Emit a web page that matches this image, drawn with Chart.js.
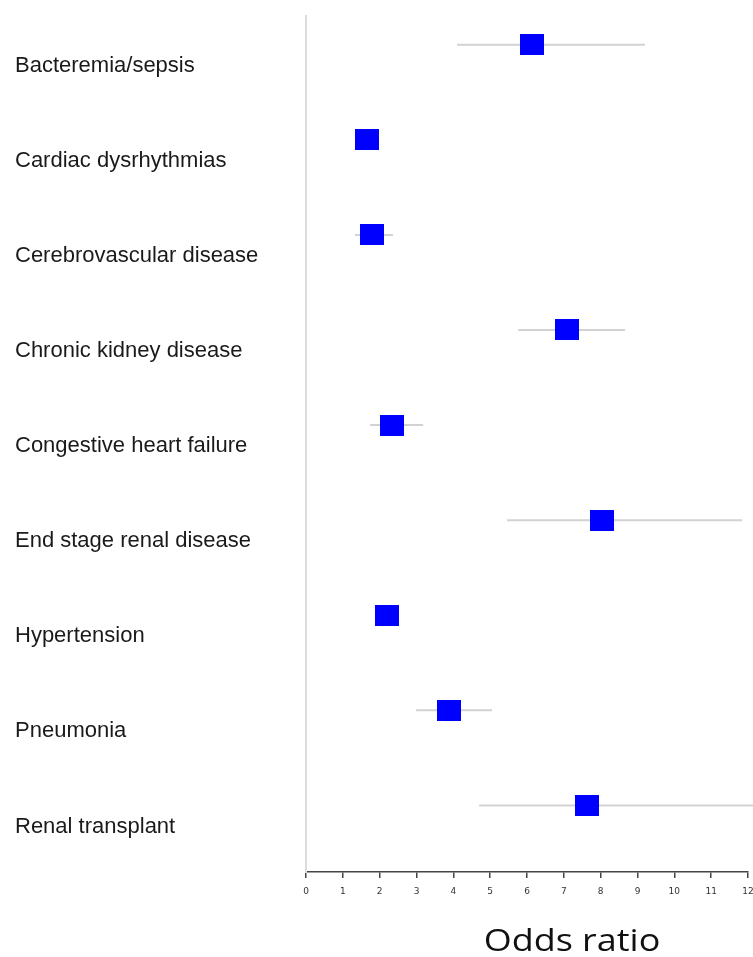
<!DOCTYPE html>
<html>
<head>
<meta charset="utf-8">
<script src="https://cdn.jsdelivr.net/npm/chart.js@4.4.0/dist/chart.umd.min.js"></script>
<style>
  html, body { margin: 0; padding: 0; background: #fff; }
</style>
</head>
<body>
<canvas id="myChart" width="753" height="957"></canvas>
<script>
// rows, top to bottom
const conditions = [
  "Bacteremia/sepsis",
  "Cardiac dysrhythmias",
  "Cerebrovascular disease",
  "Chronic kidney disease",
  "Congestive heart failure",
  "End stage renal disease",
  "Hypertension",
  "Pneumonia",
  "Renal transplant"
];
const oddsRatio = [6.14, 1.66, 1.79, 7.09, 2.34, 8.04, 2.20, 3.88, 7.63];
const ciLower   = [4.10, 1.42, 1.33, 5.76, 1.74, 5.46, 1.95, 2.99, 4.70];
const ciUpper   = [9.20, 1.92, 2.36, 8.66, 3.18, 11.84, 2.45, 5.05, 12.15];
const xTickValues = [0, 1, 2, 3, 4, 5, 6, 7, 8, 9, 10, 11, 12];

// blue box used as the point marker
const box = document.createElement('canvas');
box.width = 24;
box.height = 21;
const bctx = box.getContext('2d');
bctx.fillStyle = '#0000ff';
bctx.fillRect(0, 0, 24, 21);

// one thin grey line per confidence interval
const ciSets = conditions.map((c, i) => ({
  type: 'line',
  data: [{ x: ciLower[i], y: i }, { x: ciUpper[i], y: i }],
  borderColor: '#d2d2d2',
  borderWidth: 2,
  pointRadius: 0,
  clip: false,
  order: 2
}));

// x tick numbers drawn here so "12" can run off the right edge
const xLabels = {
  id: 'xLabels',
  afterDraw(chart) {
    const ctx = chart.ctx;
    const xs = chart.scales.x;
    ctx.save();
    ctx.font = '9px "DejaVu Sans", sans-serif';
    ctx.fillStyle = '#333';
    ctx.textAlign = 'center';
    ctx.textBaseline = 'middle';
    xTickValues.forEach(v => {
      ctx.fillText(String(v), xs.getPixelForValue(v), chart.chartArea.bottom + 20);
    });
    ctx.restore();
  }
};

const oddsTitle = {
  id: 'oddsTitle',
  afterDraw(chart) {
    const ctx = chart.ctx;
    ctx.save();
    ctx.translate(572, 951);
    ctx.scale(1.16, 1); // source text is a bit stretched sideways
    ctx.font = '31px "Open Sans", sans-serif';
    ctx.fillStyle = '#111';
    ctx.textAlign = 'center';
    ctx.textBaseline = 'alphabetic';
    ctx.fillText('Odds ratio', 0, 0);
    ctx.restore();
  }
};

new Chart(document.getElementById('myChart'), {
  type: 'scatter',
  data: {
    datasets: [
      ...ciSets,
      {
        type: 'scatter',
        data: oddsRatio.map((v, i) => ({ x: v, y: i })),
        pointStyle: box,
        // image keeps its own size; small radius stops chart.js padding the area
        pointRadius: 1,
        hoverRadius: 1,
        order: 0
      }
    ]
  },
  options: {
    responsive: false,
    animation: false,
    layout: { padding: { left: 15, top: 13, right: 5, bottom: 0 } },
    plugins: {
      legend: { display: false },
      tooltip: { enabled: false }
    },
    scales: {
      x: {
        type: 'linear',
        min: 0,
        max: 12,
        afterBuildTicks: s => { s.ticks = xTickValues.map(v => ({ value: v })); },
        afterFit: s => { s.height = 85; },
        ticks: { display: false },
        grid: {
          drawOnChartArea: false,
          drawTicks: true,
          tickLength: 6,
          color: '#444',
          lineWidth: 1.5
        },
        border: { color: '#444', width: 1.5 }
      },
      y: {
        type: 'linear',
        reverse: true,
        min: -0.3,
        max: 8.7,
        afterBuildTicks: s => { s.ticks = conditions.map((c, i) => ({ value: i })); },
        afterFit: s => { s.width = 291; },
        ticks: {
          autoSkip: false,
          crossAlign: 'far',
          labelOffset: 21,
          color: '#1a1a1a',
          font: { size: 22, family: '"Liberation Sans", Arial, sans-serif' },
          callback: v => conditions[v] || ''
        },
        grid: { display: false },
        border: { color: '#dcdcdc', width: 2 }
      }
    }
  },
  plugins: [xLabels, oddsTitle]
});
</script>
</body>
</html>
